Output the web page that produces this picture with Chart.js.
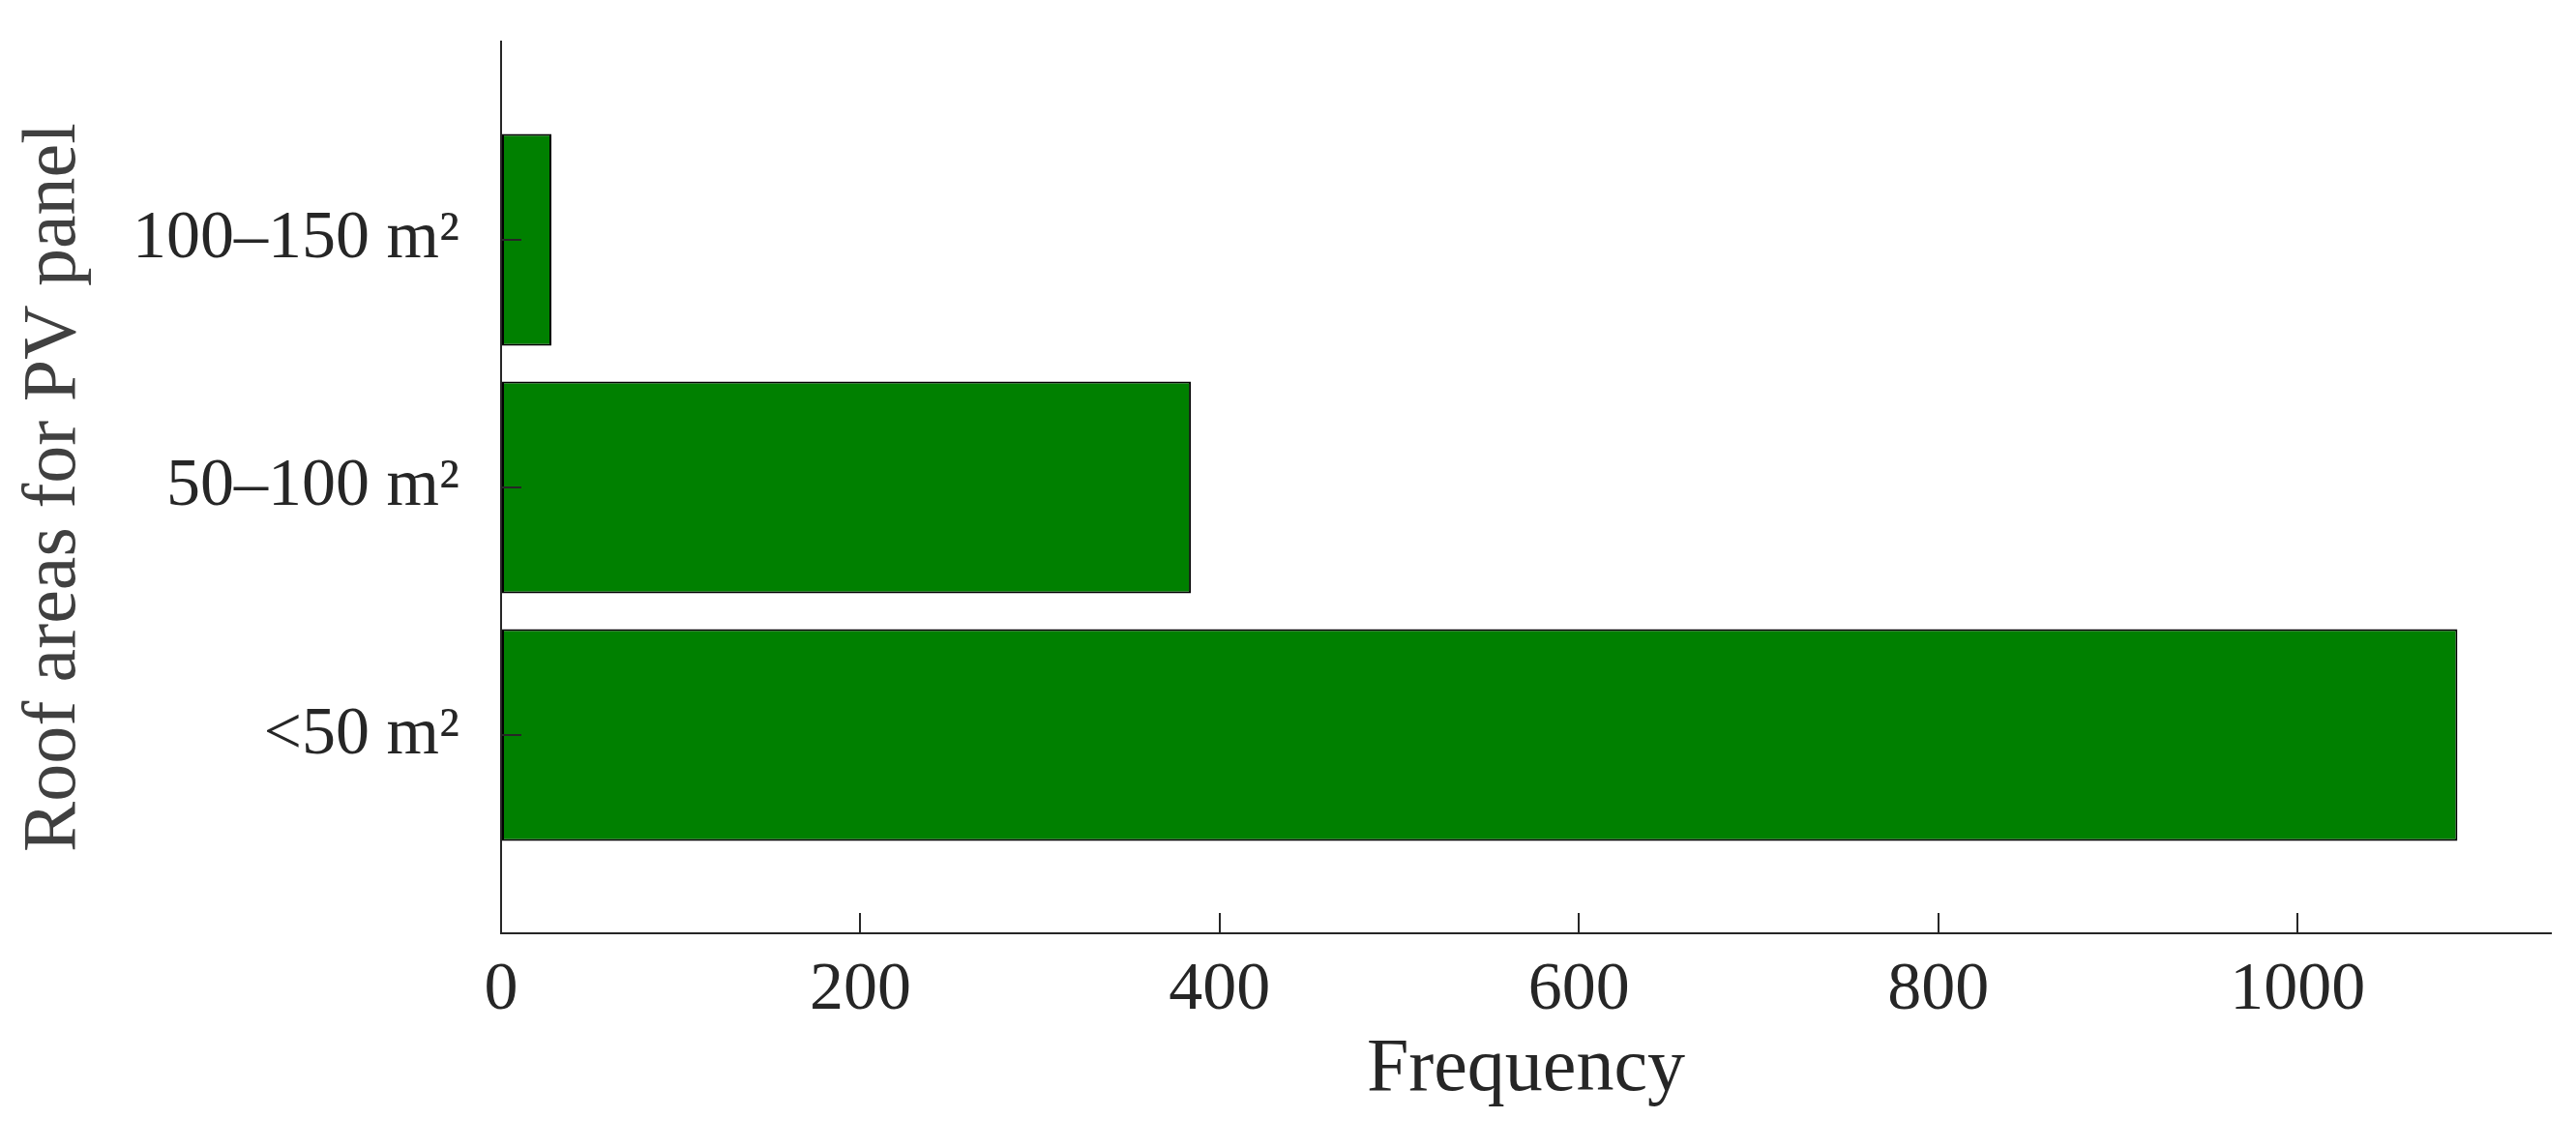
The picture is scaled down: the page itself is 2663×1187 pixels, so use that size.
<!DOCTYPE html>
<html>
<head>
<meta charset="utf-8">
<script src="https://cdn.jsdelivr.net/npm/chart.js@4.4.1/dist/chart.umd.min.js"></script>
<style>
  html, body { margin: 0; padding: 0; background: #fff; }
  #wrap { width: 2663px; height: 1187px; }
</style>
</head>
<body>
<div id="wrap"><canvas id="roofChart"></canvas></div>
<script>
// roof area classes, bottom to top
const categories = ['<50 m²', '50–100 m²', '100–150 m²'];
const frequencies = [1089, 384, 28];
const xTicks = [0, 200, 400, 600, 800, 1000];

const axisColor = '#262626';
const fontFamily = "'Liberation Serif', 'Times New Roman', serif";

const points = frequencies.map((v, i) => ({ x: v, y: i + 1 }));

const ctx = document.getElementById('roofChart').getContext('2d');

new Chart(ctx, {
    type: 'bar',
    data: {
        datasets: [{
            data: points,
            backgroundColor: '#008000',
            borderColor: '#000000',
            borderWidth: 2,
            borderSkipped: false,
            categoryPercentage: 1,
            barPercentage: 0.855
        }]
    },
    options: {
        indexAxis: 'y',
        responsive: true,
        maintainAspectRatio: false,
        animation: false,
        layout: { padding: { top: 43, right: 26, bottom: 0, left: 0 } },
        plugins: {
            legend: { display: false },
            tooltip: { enabled: false }
        },
        scales: {
            x: {
                type: 'linear',
                min: 0,
                max: 1141,
                afterBuildTicks: (scale) => { scale.ticks = xTicks.map(v => ({ value: v })); },
                afterFit: (scale) => { scale.height = 222; },
                border: { display: true, color: axisColor, width: 2 },
                grid: { drawOnChartArea: false, drawTicks: true, tickLength: -21, color: axisColor, lineWidth: 2 },
                ticks: {
                    color: axisColor,
                    padding: 39,
                    maxRotation: 0,
                    font: { family: fontFamily, size: 70 },
                    callback: (value) => String(value)
                },
                title: {
                    display: true,
                    text: 'Frequency',
                    color: axisColor,
                    padding: { top: 0, bottom: 34 },
                    font: { family: fontFamily, size: 78 }
                }
            },
            y: {
                type: 'linear',
                min: 0.2,
                max: 3.8,
                offset: false,
                afterBuildTicks: (scale) => { scale.ticks = categories.map((c, i) => ({ value: i + 1 })); },
                afterFit: (scale) => {
                    scale.width = 518;
                    scale.paddingTop = 0;
                    scale.paddingBottom = 0;
                },
                border: { display: true, color: axisColor, width: 2, z: 1 },
                // ticks sit on top of the bars, as in the original
                grid: { offset: false, z: 1, drawOnChartArea: false, drawTicks: true, tickLength: -21, color: axisColor, lineWidth: 2 },
                ticks: {
                    color: axisColor,
                    padding: 64,
                    font: { family: fontFamily, size: 70 },
                    callback: (value) => categories[Math.round(value) - 1]
                },
                title: {
                    display: true,
                    text: 'Roof areas for PV panel',
                    color: '#404040',
                    padding: { top: 10, bottom: 0 },
                    font: { family: fontFamily, size: 78 }
                }
            }
        }
    }
});
</script>
</body>
</html>
